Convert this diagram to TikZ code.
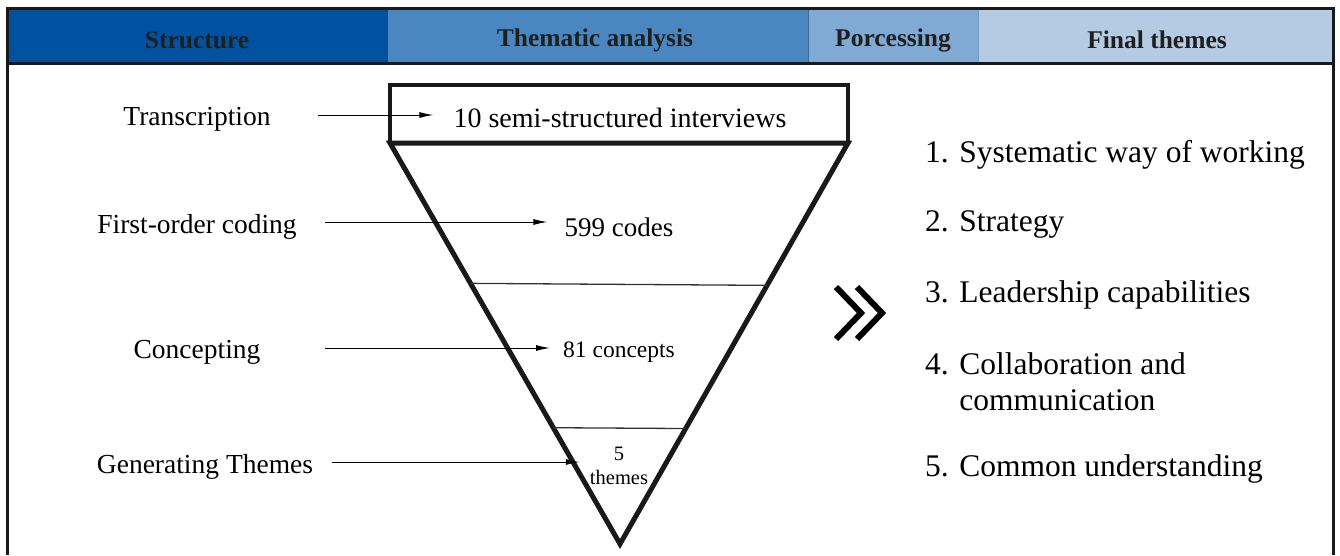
\documentclass[tikz,border=0pt]{standalone}
\usepackage{fontspec}
\setmainfont{Liberation Serif}
\usetikzlibrary{arrows.meta,positioning,calc}
\definecolor{hdrA}{HTML}{0052A0}
\definecolor{hdrB}{HTML}{4A86C0}
\definecolor{hdrC}{HTML}{80AAD3}
\definecolor{hdrD}{HTML}{B4CBE3}
\begin{document}
\begin{tikzpicture}[x=1pt, y=-1pt]
    \tikzstyle{hdr}=[font=\fontsize{25.5}{28}\selectfont\bfseries, text=black!88]
    \tikzstyle{stage}=[font=\fontsize{27.5}{30}\selectfont]
    \tikzstyle{count}=[font=\fontsize{28}{31}\selectfont, inner sep=2pt]
    \tikzstyle{theme}=[font=\fontsize{31.5}{36}\selectfont, anchor=west, align=left, inner sep=0pt]
    \tikzstyle{flow}=[-{Latex[length=14pt,width=6pt]}, line width=1pt]
    \useasboundingbox (0,0) rectangle (1340,555);
    % header bar
    \fill[hdrA] (8,9) rectangle (388,63);
    \fill[hdrB] (388,9) rectangle (808,63);
    \fill[hdrC] (808,9) rectangle (978,63);
    \fill[hdrD] (978,9) rectangle (1333,63);
    \draw[hdrB!80!black, line width=1pt] (808,9) -- (808,63);
    \draw[hdrC!90!black, line width=1pt] (978,9) -- (978,63);
    \node[hdr] (h1) at (197,40) {Structure};
    \node[hdr] (h2) at (595,40) {Thematic analysis};
    \node[hdr] (h3) at (893,40) {Porcessing};
    \node[hdr] (h4) at (1157,40) {Final themes};
    \draw[line width=3pt, black!90] (7,555) |- (1333,8) -- (1333,555);
    \draw[line width=3pt, black!90] (7,63) -- (1333,63);
    % funnel
    \coordinate (tl) at (390,143);
    \coordinate (tr) at (848,143);
    \coordinate (ap) at (620,544);
    \draw[line width=4pt, black!90] (390,85) rectangle (848,143);
    \draw[line width=5pt, black!90, line join=miter] (tl) -- (tr) -- (ap) -- cycle;
    \draw[line width=1.3pt, black!80] ($(tl)!0.35!(ap)$) -- ($(tr)!0.355!(ap)$);
    \draw[line width=1.3pt, black!80] ($(tl)!0.71!(ap)$) -- ($(tr)!0.712!(ap)$);
    \node[count] (int) at (620,118) {10 semi-structured interviews};
    \node[count, font=\fontsize{27}{30}\selectfont] (codes) at (619,227) {599 codes};
    \node[count, font=\fontsize{23.5}{26}\selectfont] (conc) at (619,352) {81 concepts};
    \node[count, font=\fontsize{20.5}{24}\selectfont, align=center] (thm) at (619,466) {5\\themes};
    % stages
    \node[stage] (s1) at (197,119) {Transcription};
    \node[stage] (s2) at (197,227) {First-order coding};
    \node[stage] (s3) at (197,352) {Concepting};
    \node[stage] (s4) at (205,467) {Generating Themes};
    \coordinate (a1) at (318,115);
    \coordinate (a2) at (325,222);
    \coordinate (a3) at (325,348);
    \coordinate (a4) at (332,462);
    \draw[flow, shorten >=18pt] (a1) -- (a1 -| int.west);
    \draw[flow, shorten >=15pt] (a2) -- (a2 -| codes.west);
    \draw[flow, shorten >=11pt] (a3) -- (a3 -| conc.west);
    \draw[flow, shorten >=8pt] (a4) -- (a4 -| thm.west);
    % chevrons
    \draw[line width=6pt, line join=miter] (836,287) -- (861,313) -- (836,339);
    \draw[line width=6pt, line join=miter] (857,287) -- (882,313) -- (857,339);
    % final themes
    \node[theme] (t1) at (925,155) {1. Systematic way of working};
    \node[theme] (t2) at (925,224) {2. Strategy};
    \node[theme] (t3) at (925,295) {3. Leadership capabilities};
    \node[theme] (t4) at (925,382) {4. Collaboration and\\\hphantom{4. }communication};
    \node[theme] (t5) at (925,469) {5. Common understanding};
\end{tikzpicture}
\end{document}
